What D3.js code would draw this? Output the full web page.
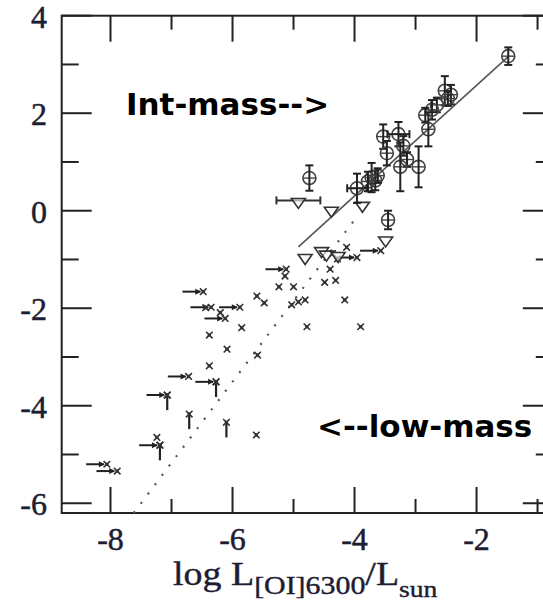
<!DOCTYPE html>
<html>
<head>
<meta charset="utf-8">
<script src="https://cdn.jsdelivr.net/npm/d3@7/dist/d3.min.js"></script>
<style>
  body { margin: 0; background: #fff; }
  svg { display: block; }
</style>
</head>
<body>
<svg id="chart" width="543" height="606"></svg>
<script>
// Axis ticks
const xTicksMajor = [-8, -6, -4, -2];
const xTicksMinor = [-7, -5, -3, -1];
const yTicksMajor = [-6, -4, -2, 0, 2, 4];
const yTicksMinor = [-5, -3, -1, 1, 3];

// Intermediate-mass detections: [log L_OI, y, yErr, xErr]
const intMassStars = [
  [-1.48, 3.17, 0.18, 0],
  [-2.52, 2.46, 0.30, 0],
  [-2.42, 2.38, 0.20, 0],
  [-2.47, 2.30, 0.15, 0],
  [-2.65, 2.17, 0.15, 0],
  [-2.73, 2.07, 0.20, 0],
  [-2.84, 1.96, 0.15, 0],
  [-2.79, 1.67, 0.35, 0],
  [-3.53, 1.52, 0.25, 0],
  [-3.28, 1.57, 0.25, 0.18],
  [-3.20, 1.33, 0.20, 0],
  [-3.47, 1.18, 0.25, 0],
  [-3.14, 1.05, 0.15, 0],
  [-3.25, 0.90, 0.50, 0],
  [-2.95, 0.90, 0.42, 0],
  [-3.72, 0.68, 0.30, 0],
  [-3.66, 0.62, 0.20, 0],
  [-3.78, 0.60, 0.20, 0],
  [-3.62, 0.72, 0.15, 0],
  [-3.96, 0.46, 0.30, 0.16],
  [-4.74, 0.67, 0.26, 0],
  [-3.45, -0.19, 0.19, 0]
];

// Intermediate-mass upper limits (inverted triangles): [x, y, xErr]
const intMassLimits = [
  [-4.92, 0.17, 0.36],
  [-4.38, -0.01, 0],
  [-3.87, 0.09, 0],
  [-4.81, -0.98, 0],
  [-4.54, -0.84, 0],
  [-4.46, -0.91, 0],
  [-4.27, -0.94, 0],
  [-3.49, -0.62, 0]
];

// Low-mass detections: [x, y]
const lowMassStars = [
  [-6.38, -2.55], [-5.85, -2.40], [-5.60, -1.75], [-5.48, -1.89],
  [-5.24, -1.56], [-5.00, -1.56], [-5.03, -1.93], [-4.92, -1.87],
  [-4.81, -1.83], [-6.09, -2.84], [-6.38, -3.18], [-5.59, -2.96],
  [-5.14, -1.34], [-4.78, -2.38], [-3.90, -2.38], [-4.16, -1.83],
  [-4.49, -1.47], [-4.31, -1.43], [-4.40, -1.20], [-4.13, -0.75],
  [-4.28, -0.99], [-4.36, -0.88], [-5.61, -4.60], [-7.24, -4.65],
  [-6.20, -2.09], [-6.44, -1.99]
];

// Low-mass limits in luminosity (horizontal arrows): [x, y]
const lowMassXLimits = [
  [-6.48, -1.66], [-6.35, -1.98], [-5.88, -1.98], [-6.12, -2.21],
  [-5.12, -1.20], [-6.72, -3.40], [-6.27, -3.51], [-7.07, -3.78],
  [-7.19, -4.81], [-8.06, -5.20], [-7.89, -5.34], [-3.57, -0.82],
  [-3.96, -0.96]
];

// Low-mass limits on the vertical quantity (downward bars): [x, y]
const lowMassYLimits = [
  [-6.27, -3.51], [-7.07, -3.78], [-7.19, -4.81], [-6.71, -4.17], [-6.10, -4.34]
];

// Fitted relations
const intMassFit = [[-4.92, -0.74], [-1.48, 3.16]];
const lowMassFit = [[-7.62, -6.20], [-3.96, -0.12]];

const svg = d3.select("#chart");
const x = d3.scaleLinear().domain([-8.8, -0.75]).range([61.7, 552.8]);
const y = d3.scaleLinear().domain([-6.2, 4]).range([513, 15.7]);

const ink = "#222";
const markInk = "#333";
const labelInk = "#1d1d33";

// Plot frame and ticks on all four sides
const frame = svg.append("g").attr("stroke", ink).attr("stroke-width", 2).attr("fill", "none");
frame.append("rect")
  .attr("x", x.range()[0]).attr("y", y.range()[1])
  .attr("width", x.range()[1] - x.range()[0])
  .attr("height", y.range()[0] - y.range()[1]);

const x0 = x.range()[0], x1 = x.range()[1], yb = y.range()[0], yt = y.range()[1];
function vTicks(vals, len) {
  vals.forEach(v => {
    frame.append("line").attr("x1", x(v)).attr("x2", x(v)).attr("y1", yb).attr("y2", yb - len);
    frame.append("line").attr("x1", x(v)).attr("x2", x(v)).attr("y1", yt).attr("y2", yt + len);
  });
}
function hTicks(vals, len) {
  vals.forEach(v => {
    frame.append("line").attr("y1", y(v)).attr("y2", y(v)).attr("x1", x0).attr("x2", x0 + len);
    frame.append("line").attr("y1", y(v)).attr("y2", y(v)).attr("x1", x1).attr("x2", x1 - len);
  });
}
vTicks(xTicksMajor, 26);
vTicks(xTicksMinor, 14);
hTicks(yTicksMajor, 30);
hTicks(yTicksMinor, 17);

// Tick labels
const tickFont = "'Liberation Serif', 'Times New Roman', serif";
svg.append("g").selectAll("text").data(xTicksMajor).join("text")
  .attr("x", d => x(d)).attr("y", 550)
  .attr("text-anchor", "middle")
  .attr("font-family", tickFont).attr("font-size", 32)
  .attr("fill", labelInk).attr("stroke", labelInk).attr("stroke-width", 0.5)
  .text(d => d);
svg.append("g").selectAll("text").data(yTicksMajor).join("text")
  .attr("x", 47).attr("y", d => y(d) + 12)
  .attr("text-anchor", "end")
  .attr("font-family", tickFont).attr("font-size", 32)
  .attr("fill", labelInk).attr("stroke", labelInk).attr("stroke-width", 0.5)
  .text(d => d);

// Axis title, slightly widened
const title = svg.append("text")
  .attr("x", 0).attr("y", 0)
  .attr("transform", "translate(173,585) scale(1.15,1)")
  .attr("font-family", tickFont).attr("fill", labelInk)
  .attr("stroke", labelInk).attr("stroke-width", 0.4);
title.append("tspan").attr("font-size", 33).text("log L");
title.append("tspan").attr("font-size", 26).attr("dy", 9).text("[OI]6300");
title.append("tspan").attr("font-size", 33).attr("dy", -9).text("/L");
title.append("tspan").attr("font-size", 24).attr("dy", 12).text("sun");

// Fit lines
const line = d3.line().x(d => x(d[0])).y(d => y(d[1]));
svg.append("path").datum(intMassFit).attr("d", line)
  .attr("stroke", "#555").attr("stroke-width", 1.6).attr("fill", "none");
svg.append("path").datum(lowMassFit).attr("d", line)
  .attr("stroke", "#555").attr("stroke-width", 2.2).attr("fill", "none")
  .attr("stroke-dasharray", "2,9.7");

// Low-mass horizontal limit arrows
const arrowLen = 0.34;
const gx = svg.append("g").attr("stroke", ink).attr("fill", ink);
lowMassXLimits.forEach(d => {
  const px = x(d[0]), py = y(d[1]);
  gx.append("line").attr("x1", x(d[0] - arrowLen)).attr("x2", px - 3)
    .attr("y1", py).attr("y2", py).attr("stroke-width", 2);
  gx.append("path")
    .attr("d", `M${px - 2},${py} L${px - 8},${py - 3} L${px - 8},${py + 3} Z`)
    .attr("stroke", "none");
});

// Low-mass vertical limit bars
const yLimLen = 0.31;
lowMassYLimits.forEach(d => {
  gx.append("line").attr("x1", x(d[0])).attr("x2", x(d[0]))
    .attr("y1", y(d[1])).attr("y2", y(d[1] - yLimLen)).attr("stroke-width", 2.2);
});

// Low-mass cross markers
const crossPts = lowMassStars.concat(lowMassXLimits, lowMassYLimits);
const gc = svg.append("g").attr("stroke", markInk).attr("stroke-width", 1.6).attr("fill", "none");
crossPts.forEach(d => {
  const px = x(d[0]), py = y(d[1]), s = 3.3;
  gc.append("path")
    .attr("d", `M${px - s},${py - s}L${px + s},${py + s}M${px - s},${py + s}L${px + s},${py - s}`);
  gc.append("rect").attr("x", px - 1.6).attr("y", py - 1.6).attr("width", 3.2).attr("height", 3.2)
    .attr("fill", markInk).attr("stroke", "none");
});

// Intermediate-mass upper limits: open inverted triangles
const gt = svg.append("g").attr("stroke", "#333").attr("fill", "none");
intMassLimits.forEach(d => {
  const px = x(d[0]), py = y(d[1]);
  if (d[2] > 0) {
    gt.append("line").attr("x1", x(d[0] - d[2])).attr("x2", x(d[0] + d[2]))
      .attr("y1", py - 2).attr("y2", py - 2).attr("stroke-width", 2);
    [d[0] - d[2], d[0] + d[2]].forEach(v => {
      gt.append("line").attr("x1", x(v)).attr("x2", x(v))
        .attr("y1", py - 6).attr("y2", py + 2).attr("stroke-width", 2);
    });
  }
  gt.append("path")
    .attr("d", `M${px - 7},${py - 4} L${px + 7},${py - 4} L${px},${py + 6} Z`)
    .attr("stroke-width", 1.6).attr("fill", "#fff").attr("fill-opacity", 0.6);
});

// Intermediate-mass detections: circles with error bars
const gi = svg.append("g").attr("fill", "none");
intMassStars.forEach(d => {
  const px = x(d[0]), py = y(d[1]);
  gi.append("circle").attr("cx", px).attr("cy", py).attr("r", 6.5)
    .attr("stroke", "#444").attr("stroke-width", 1.6);
  gi.append("line").attr("x1", px - 6.5).attr("x2", px + 6.5)
    .attr("y1", py).attr("y2", py).attr("stroke", "#444").attr("stroke-width", 1.4);
  const top = y(d[1] + d[2]), bot = y(d[1] - d[2]);
  gi.append("line").attr("x1", px).attr("x2", px).attr("y1", top).attr("y2", bot)
    .attr("stroke", ink).attr("stroke-width", 2);
  [top, bot].forEach(v => {
    gi.append("line").attr("x1", px - 4).attr("x2", px + 4).attr("y1", v).attr("y2", v)
      .attr("stroke", ink).attr("stroke-width", 2);
  });
  if (d[3] > 0) {
    const l = x(d[0] - d[3]), r = x(d[0] + d[3]);
    gi.append("line").attr("x1", l).attr("x2", r).attr("y1", py).attr("y2", py)
      .attr("stroke", ink).attr("stroke-width", 2);
    [l, r].forEach(v => {
      gi.append("line").attr("x1", v).attr("x2", v).attr("y1", py - 4).attr("y2", py + 4)
        .attr("stroke", ink).attr("stroke-width", 2);
    });
  }
});

// Region annotations
const noteFont = "'DejaVu Sans', sans-serif";
svg.append("text").attr("x", 126).attr("y", 115)
  .attr("font-family", noteFont).attr("font-weight", "bold").attr("font-size", 31)
  .attr("fill", "#000").text("Int-mass-->");
svg.append("text").attr("x", 317).attr("y", 437)
  .attr("font-family", noteFont).attr("font-weight", "bold").attr("font-size", 31)
  .attr("fill", "#000").text("<--low-mass");
</script>
</body>
</html>
